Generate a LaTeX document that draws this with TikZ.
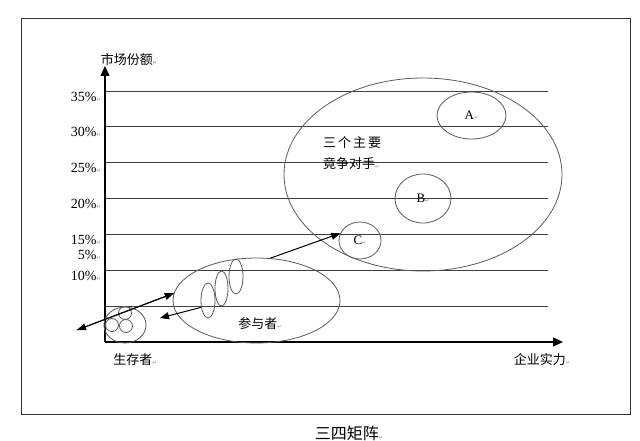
\documentclass[tikz,border=0pt]{standalone}
\usepackage{fontspec}
\setmainfont{Liberation Serif}
\newfontfamily\cjk{Noto Sans CJK SC}
\newfontfamily\cjkwide[LetterSpace=15]{Noto Sans CJK SC}
\newfontfamily\symfont{DejaVu Sans}
\usetikzlibrary{shapes.geometric,arrows.meta}
\definecolor{ovalColor}{RGB}{90,90,90}
\newcommand{\retmark}{{\symfont\fontsize{5}{5}\selectfont\color{gray}↵}}

\tikzset{
  oval/.style={draw=ovalColor, ellipse, inner sep=0pt, line width=0.8pt,
    font=\fontsize{13}{13}\selectfont},
  gridline/.style={draw=black!75, line width=0.9pt},
  pct/.style={anchor=east, inner sep=0pt, font=\fontsize{14}{14}\selectfont},
  cjklabel/.style={inner sep=0pt, font=\cjk\fontsize{13}{15}\selectfont},
  arr/.style={-{Triangle[length=9pt,width=7pt]}, line width=1pt}
}

\begin{document}
\begin{tikzpicture}[x=1pt,y=-1pt]
  \useasboundingbox (0,0) rectangle (640,441);
  \draw[line width=1pt, draw=black!80] (21,19) rectangle (630,414);
  % Grid
  \foreach \y/\p in {91/35,126/30,162/25,198/20,234/15,270/10}{
    \draw[gridline] (105,\y) -- (548,\y);
    \node[pct] at (101,\y+6) {\p\%\retmark};
  }
  \draw[gridline] (105,306) -- (548,306);
  \node[pct] at (101,255) {5\%\retmark};
  % Axes
  \coordinate (origin) at (105,342);
  \coordinate (ytip) at (105,66);
  \coordinate (xtip) at (563,342);
  \draw[-{Triangle[length=10pt,width=9pt]}, line width=1.4pt] (origin) -- (ytip);
  \draw[-{Triangle[length=10pt,width=9pt]}, line width=1.4pt] (origin) -- (xtip);
  \node[cjklabel] (share) at (129,60) {市场份额\retmark};
  \node[cjklabel] (power) at (542,360) {企业实力\retmark};
  \node[cjklabel] (survlabel) at (135,360) {生存者\retmark};
  % Main competitors
  \node[oval, minimum width=278pt, minimum height=193pt] (big) at (423,174.5) {};
  \node[oval, minimum width=69pt, minimum height=47pt] (A) at (471.5,115.5) {A\retmark};
  \node[oval, minimum width=56pt, minimum height=49pt] (B) at (423,198.5) {B\retmark};
  \node[oval, minimum width=42pt, minimum height=37pt] (C) at (360,240.5) {C\retmark};
  \node[cjklabel, align=left, anchor=north west] (bigtext) at (323,136)
    {{\cjkwide 三个主要}\\[6pt]竟争对手\retmark};
  % Participants
  \node[oval, minimum width=167pt, minimum height=85pt] (part) at (256.5,300.5) {};
  \node[oval, minimum width=14pt, minimum height=35pt] (p1) at (208,300.5) {};
  \node[oval, minimum width=13pt, minimum height=35pt] (p2) at (221.5,288.5) {};
  \node[oval, minimum width=14pt, minimum height=35pt] (p3) at (236,276.5) {};
  \node[cjklabel] (partlabel) at (260,324) {参与者\retmark};
  % Survivors
  \node[oval, minimum width=42pt, minimum height=36pt] (surv) at (125,325) {};
  \node[oval, minimum size=13pt] (s1) at (125,313) {};
  \node[oval, minimum size=13pt] (s2) at (112,325) {};
  \node[oval, minimum size=13pt] (s3) at (126,326) {};
  % Moves
  \coordinate (out) at (77,330);
  \coordinate (back) at (160,318);
  \draw[arr] (part.175) -- (out);
  \draw[arr] (out) -- (part.175);
  \draw[arr] (p1.225) -- (back);
  \draw[arr] (part.72) -- (C.160);
  % Caption
  \node[cjklabel, font=\cjk\fontsize{16}{16}\selectfont] (caption) at (349,433) {三四矩阵\retmark};
\end{tikzpicture}
\end{document}
